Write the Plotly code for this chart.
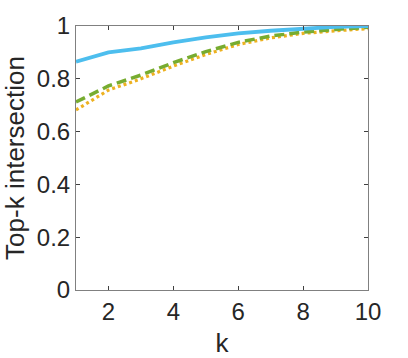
import plotly.graph_objects as go

# data
k = [1, 2, 3, 4, 5, 6, 7, 8, 9, 10]
top_k_blue = [0.865, 0.900, 0.915, 0.938, 0.957, 0.972, 0.982, 0.990, 0.997, 1.000]
top_k_green = [0.712, 0.773, 0.814, 0.861, 0.903, 0.938, 0.962, 0.977, 0.987, 0.995]
top_k_orange = [0.682, 0.757, 0.800, 0.848, 0.892, 0.930, 0.955, 0.972, 0.982, 0.990]
x_ticks = [2, 4, 6, 8, 10]
y_ticks = [0, 0.2, 0.4, 0.6, 0.8, 1]
y_tick_labels = ["0", "0.2", "0.4", "0.6", "0.8", "1"]

fig = go.Figure()

# orange dotted, green dashed, blue solid on top
fig.add_trace(go.Scatter(
    x=k, y=top_k_orange, mode='lines',
    line=dict(color="#EDB120", width=3.2, dash='3px,3px'),
    showlegend=False))

fig.add_trace(go.Scatter(
    x=k, y=top_k_green, mode='lines',
    line=dict(color="#77AC30", width=3.5, dash='10px,5px'),
    showlegend=False))

fig.add_trace(go.Scatter(
    x=k, y=top_k_blue, mode='lines',
    line=dict(color="#4DBEEE", width=3.8),
    showlegend=False))

axis_style = dict(
    showgrid=False, zeroline=False, automargin=False,
    showline=True, linecolor="#808080", linewidth=1,
    mirror="ticks", ticks="inside", ticklen=4, tickcolor="#404040",
    tickfont=dict(family="Liberation Sans, Arial", size=24, color="#262626"))

fig.update_layout(
    width=408, height=358,
    margin=dict(l=76, r=40, t=26, b=68),
    plot_bgcolor="white", paper_bgcolor="white",
    font=dict(family="Liberation Sans, Arial", color="#262626"))

fig.update_xaxes(
    range=[1, 10], tickvals=x_ticks,
    title=dict(text="k", font=dict(size=26), standoff=11),
    **axis_style)

fig.update_yaxes(
    range=[0, 1], tickvals=y_ticks, ticktext=y_tick_labels,
    title=dict(text="Top-k intersection", font=dict(size=26), standoff=14),
    **axis_style)

# drop the default body margin so the figure sits at the page corner
fig.write_html("out.html",
               config={"displayModeBar": False},
               post_script="document.body.style.margin='0px';")
